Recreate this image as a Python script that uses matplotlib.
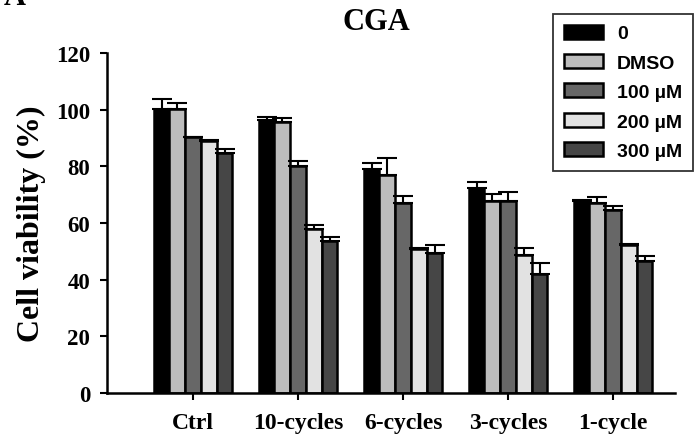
import numpy as np
import matplotlib
matplotlib.use("Agg")
import matplotlib.pyplot as plt

# Cell viability (%) per exposure condition and treatment
categories = ["Ctrl", "10-cycles", "6-cycles", "3-cycles", "1-cycle"]
series_labels = ["0", "DMSO", "100 \u00b5M", "200 \u00b5M", "300 \u00b5M"]

viab_0 = [100.2, 96.5, 79.1, 72.2, 67.6]
viab_dmso = [100.4, 95.5, 76.8, 67.9, 67.1]
viab_100 = [90.2, 80.0, 67.1, 67.9, 64.7]
viab_200 = [89.0, 58.0, 51.0, 48.7, 52.4]
viab_300 = [84.7, 53.6, 49.5, 42.0, 46.7]

err_0 = [3.5, 0.8, 2.0, 2.1, 0.5]
err_dmso = [2.0, 1.5, 6.0, 2.2, 2.2]
err_100 = [0.3, 2.0, 2.5, 3.0, 1.4]
err_200 = [0.3, 1.2, 0.3, 2.6, 0.3]
err_300 = [1.5, 1.3, 2.7, 4.0, 1.7]

yticks = [0, 20, 40, 60, 80, 100, 120]

values = [viab_0, viab_dmso, viab_100, viab_200, viab_300]
errors = [err_0, err_dmso, err_100, err_200, err_300]
colors = ["#000000", "#bdbdbd", "#676767", "#e2e2e2", "#464646"]

fig = plt.figure(figsize=(6.98, 4.39), dpi=100)
ax = fig.add_axes([0.1533, 0.1025, 0.8137, 0.7745])

x = np.arange(len(categories))
width = 0.15
handles = []
for i, (vals, errs, col, lab) in enumerate(zip(values, errors, colors, series_labels)):
    pos = x + (i - 2) * width
    b = ax.bar(pos, vals, width, color=col, edgecolor="black", linewidth=1.8,
               label=lab, zorder=2)
    handles.append(b)
    ax.errorbar(pos, vals, yerr=[np.zeros(len(vals)), errs], fmt="none",
                ecolor="black", elinewidth=1.5, capsize=7, capthick=1.5, zorder=3)

ax.set_xlim(-0.82, 4.59)
ax.set_ylim(0, 120)
ax.set_yticks(yticks)
ax.set_xticks(x)
ax.set_xticklabels(categories)

serif = ["Liberation Serif", "DejaVu Serif"]
for lbl in ax.get_xticklabels():
    lbl.set_fontfamily(serif)
    lbl.set_fontweight("bold")
    lbl.set_fontsize(17)
for lbl in ax.get_yticklabels():
    lbl.set_fontfamily(serif)
    lbl.set_fontweight("bold")
    lbl.set_fontsize(16.5)

ax.tick_params(axis="both", direction="out", length=5, width=1.5)
ax.tick_params(axis="x", pad=9)
ax.tick_params(axis="y", pad=7)

for side in ["top", "right"]:
    ax.spines[side].set_visible(False)
for side in ["left", "bottom"]:
    ax.spines[side].set_linewidth(1.8)

ax.set_ylabel("Cell viability (%)", fontfamily=serif, fontweight="bold",
              fontsize=23, labelpad=7)

fig.text(376.5 / 698, 1 - 23 / 439, "CGA", fontfamily=serif, fontweight="bold",
         fontsize=22, ha="center", va="center")
# Panel letter sitting at the very top edge of the figure
fig.text(0.005, 1 - 5 / 439, "A", fontfamily=serif, fontweight="bold",
         fontsize=22, ha="left", va="baseline")

leg = fig.legend(handles=handles, loc="upper right",
                 bbox_to_anchor=(693 / 698, 1 - 15 / 439),
                 prop={"family": ["Liberation Sans", "DejaVu Sans"],
                       "weight": "bold", "size": 14},
                 handlelength=2.0, handleheight=0.72, labelspacing=0.6,
                 handletextpad=0.75, borderpad=0.55, borderaxespad=0,
                 fancybox=False, frameon=True, edgecolor="black")
leg.get_frame().set_linewidth(1.3)

fig.savefig("out.png", dpi=100)
